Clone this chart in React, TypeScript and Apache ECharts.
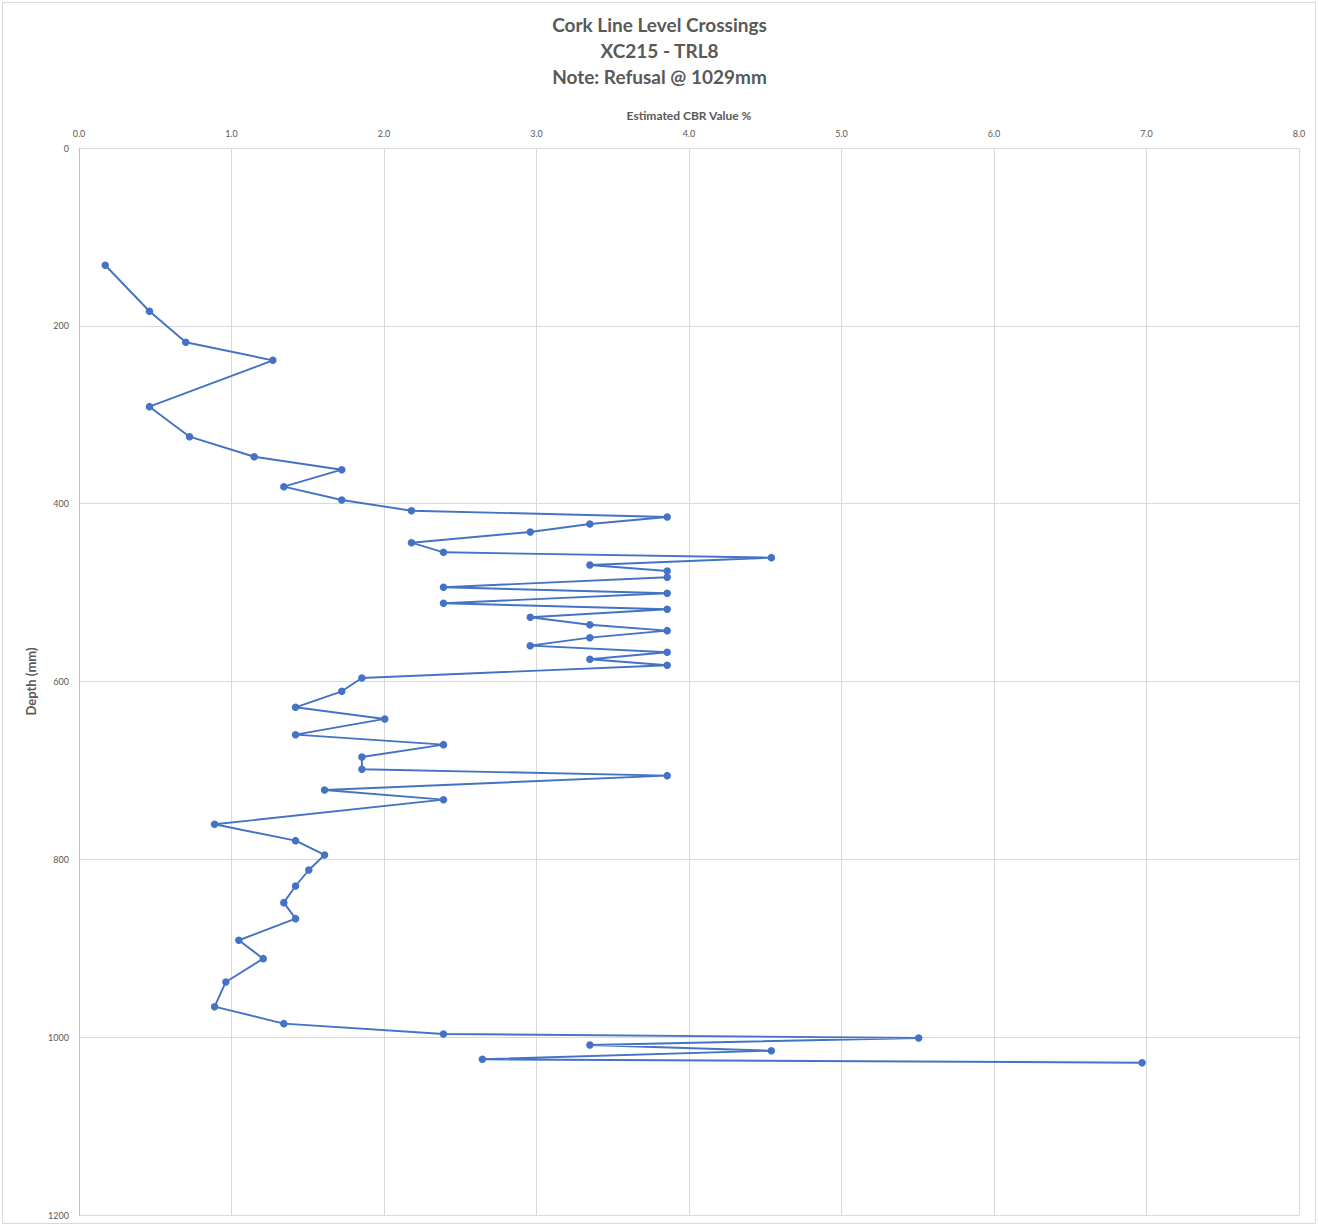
import React, { useEffect, useRef } from "react";
import * as echarts from "echarts";

const cbrValues: number[] = [
  0.172, 0.462, 0.70, 1.271, 0.462, 0.725, 1.149, 1.723, 1.343, 1.723,
  2.18, 3.857, 3.35, 2.959, 2.18, 2.39, 4.54, 3.35, 3.857, 3.857,
  2.39, 3.857, 2.39, 3.857, 2.959, 3.35, 3.857, 3.35, 2.959, 3.857,
  3.35, 3.857, 1.855, 1.723, 1.42, 2.005, 1.42, 2.39, 1.855, 1.855,
  3.857, 1.61, 2.39, 0.889, 1.42, 1.61, 1.507, 1.42, 1.343, 1.42,
  1.048, 1.208, 0.963, 0.889, 1.343, 2.39, 5.506, 3.35, 4.54, 2.645,
  6.971,
];

const depthValues: number[] = [
  131.9, 183.6, 218.5, 238.8, 290.9, 324.7, 347.2, 361.8, 380.9, 395.9,
  407.9, 415.0, 422.9, 431.8, 443.9, 454.7, 460.7, 469.0, 475.7, 482.8,
  494.0, 500.8, 512.0, 518.8, 527.8, 536.1, 542.8, 550.7, 559.7, 567.1,
  575.0, 581.8, 596.0, 611.0, 629.0, 642.1, 659.8, 671.0, 684.9, 698.7,
  705.9, 722.0, 732.9, 760.6, 779.0, 795.1, 812.0, 830.0, 848.7, 866.7,
  891.0, 911.7, 937.9, 965.7, 984.8, 996.4, 1000.9, 1008.8, 1015.2, 1024.9,
  1028.7,
];

const titleLines: string[] = [
  "Cork Line Level Crossings",
  "XC215 - TRL8",
  "Note: Refusal @ 1029mm",
];

const xAxisTitle = "Estimated CBR Value %";
const yAxisTitle = "Depth (mm)";

export default function App() {
  const ref = useRef<HTMLDivElement>(null);

  useEffect(() => {
    document.body.style.margin = "0";
    if (!ref.current) return;
    const chart = echarts.init(ref.current, null, { renderer: "svg" });
    const font = "Lato, 'Open Sans', sans-serif";
    const points = cbrValues.map((v, i) => [v, depthValues[i]]);
    chart.setOption({
      animation: false,
      backgroundColor: "#ffffff",
      textStyle: { fontFamily: font },
      title: {
        text: titleLines.join("\n"),
        left: "center",
        top: 6,
        textStyle: {
          fontFamily: font,
          fontSize: 19,
          fontWeight: "bold",
          color: "#595959",
          lineHeight: 26,
        },
      },
      graphic: [
        {
          type: "rect",
          shape: { x: 2.5, y: 2.5, width: 1313, height: 1221 },
          style: { fill: "none", stroke: "#d9d9d9", lineWidth: 1 },
          silent: true,
        },
      ],
      grid: { left: 79, top: 148, right: 20, bottom: 11 },
      xAxis: {
        type: "value",
        position: "top",
        min: 0,
        max: 8,
        interval: 1,
        name: xAxisTitle,
        nameLocation: "middle",
        nameGap: 27,
        nameTextStyle: {
          fontFamily: font,
          fontSize: 12,
          fontWeight: "bold",
          color: "#595959",
        },
        axisLine: { show: true, lineStyle: { color: "#d9d9d9" } },
        axisTick: { show: false },
        axisLabel: {
          formatter: (v: number) => v.toFixed(1),
          fontSize: 9,
          color: "#595959",
          margin: 10,
        },
        splitLine: { show: true, lineStyle: { color: "#d9d9d9", width: 1 } },
      },
      yAxis: {
        type: "value",
        inverse: true,
        min: 0,
        max: 1200,
        interval: 200,
        name: yAxisTitle,
        nameLocation: "middle",
        nameGap: 33,
        nameRotate: 90,
        nameTextStyle: {
          fontFamily: font,
          fontSize: 13,
          fontWeight: "bold",
          color: "#595959",
        },
        axisLine: { show: true, lineStyle: { color: "#bfbfbf" } },
        axisTick: { show: false },
        axisLabel: {
          formatter: (v: number) => String(v),
          fontSize: 9,
          color: "#595959",
          margin: 10,
        },
        splitLine: { show: true, lineStyle: { color: "#d9d9d9", width: 1 } },
      },
      series: [
        {
          type: "line",
          data: points,
          symbol: "circle",
          symbolSize: 7.5,
          showSymbol: true,
          lineStyle: { color: "#4472C4", width: 1.9 },
          itemStyle: { color: "#4472C4" },
        },
      ],
    });
    return () => chart.dispose();
  }, []);

  return <div ref={ref} style={{ width: 1319, height: 1226 }} />;
}
